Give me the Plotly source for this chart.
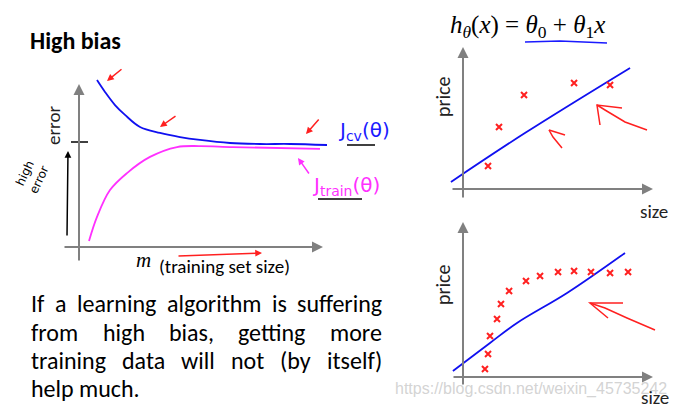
import glob
import plotly.graph_objects as go

W, H = 673, 408

# ---------------- data ----------------
# learning curves (left plot), x = training set size (0..100), y = error (0..100)
cv_m = [7.2, 10.4, 14.4, 18.4, 24.4, 32.4, 40.4, 48.4, 60.4, 72.4, 84.4, 99.2]
cv_err = [97.6, 90.6, 82.9, 77.1, 70.0, 66.5, 64.1, 62.4, 60.6, 60.0, 60.0, 59.4]
train_m = [4.0, 7.2, 12.4, 19.2, 28.4, 39.2, 48.4, 61.6, 96.4]
train_err = [2.9, 17.1, 32.9, 42.9, 52.4, 58.2, 58.8, 58.2, 57.1]

# top-right: few training examples + linear fit
top_size = [1.39, 2.0, 3.39, 6.17, 8.17]
top_price = [1.53, 4.13, 6.27, 7.07, 6.93]
top_fit_x = [-0.67, 3.44, 9.28]
top_fit_y = [0.47, 3.73, 8.07]

# bottom-right: many training examples + linear fit
bot_size = [1.22, 1.39, 1.5, 1.89, 2.11, 2.56, 3.5, 4.28, 5.28, 6.17, 7.11, 8.17, 9.17]
bot_price = [0.53, 1.53, 2.73, 3.87, 4.87, 5.73, 6.4, 6.73, 7.0, 7.07, 7.0, 6.93, 7.0]
bot_fit_x = [-0.56, 1.5, 3.0, 5.78, 9.0]
bot_fit_y = [0.4, 2.27, 3.6, 5.6, 8.27]

paragraph = [
    "If a learning algorithm is suffering",
    "from high bias, getting more",
    "training data will not (by itself)",
    "help much.",
]

# ---------------- font choice / measuring ----------------
FONT = "Lato"
font_file = None
carl = glob.glob("/usr/share/fonts/**/Carlito-Regular.ttf", recursive=True)
if carl:
    FONT = "Carlito"
    font_file = carl[0]
else:
    lat = glob.glob("/usr/share/fonts/**/Lato-Regular.ttf", recursive=True)
    if lat:
        font_file = lat[0]

measure = None
try:
    from PIL import ImageFont
    if font_file:
        _f = ImageFont.truetype(font_file, 100)
        measure = lambda s, size: _f.getlength(s) * size / 100.0
except Exception:
    measure = None
if measure is None:
    measure = lambda s, size: len(s) * 0.45 * size

GRAY = "#808080"
RED = "#ff2020"
BLUE = "#1010f0"
MAG = "#ff30ff"


def PX(x):
    return x / W


def PY(y):
    return 1 - y / H


fig = go.Figure()


def add_axes(idx, origin, scale, box):
    ox, oy = origin
    sx, sy = scale
    x0, y0, x1, y1 = box
    sfx = "" if idx == 1 else str(idx)
    xa = dict(domain=[PX(x0), PX(x1)], range=[(x0 - ox) / sx, (x1 - ox) / sx],
              visible=False, fixedrange=True, anchor="y" + sfx)
    ya = dict(domain=[PY(y1), PY(y0)], range=[(oy - y1) / sy, (oy - y0) / sy],
              visible=False, fixedrange=True, anchor="x" + sfx)
    fig.update_layout(**{"xaxis" + sfx: xa, "yaxis" + sfx: ya})


add_axes(1, (79, 246), (2.5, 1.7), (60, 60, 340, 265))
add_axes(2, (463, 189), (18, 15), (440, 40, 665, 200))
add_axes(3, (463, 377), (18, 15), (440, 215, 665, 392))

fig.add_trace(go.Scatter(x=cv_m, y=cv_err, mode="lines", line=dict(color=BLUE, width=1.8, shape="spline"),
                         xaxis="x", yaxis="y", hoverinfo="skip"))
fig.add_trace(go.Scatter(x=train_m, y=train_err, mode="lines", line=dict(color=MAG, width=1.8, shape="spline"),
                         xaxis="x", yaxis="y", hoverinfo="skip"))
fig.add_trace(go.Scatter(x=top_fit_x, y=top_fit_y, mode="lines", line=dict(color=BLUE, width=1.8, shape="spline"),
                         xaxis="x2", yaxis="y2", hoverinfo="skip"))
fig.add_trace(go.Scatter(x=top_size, y=top_price, mode="markers",
                         marker=dict(symbol="x-thin", size=6, line=dict(color=RED, width=2)),
                         xaxis="x2", yaxis="y2", hoverinfo="skip"))
fig.add_trace(go.Scatter(x=bot_fit_x, y=bot_fit_y, mode="lines", line=dict(color=BLUE, width=1.8, shape="spline"),
                         xaxis="x3", yaxis="y3", hoverinfo="skip"))
fig.add_trace(go.Scatter(x=bot_size, y=bot_price, mode="markers",
                         marker=dict(symbol="x-thin", size=6, line=dict(color=RED, width=2)),
                         xaxis="x3", yaxis="y3", hoverinfo="skip"))

ann = []
shapes = []


def arrow(tail, head, color, width=2, head_style=2, size=1.0):
    ann.append(dict(x=PX(head[0]), y=PY(head[1]), xref="paper", yref="paper",
                    ax=tail[0] - head[0], ay=tail[1] - head[1], axref="pixel", ayref="pixel",
                    showarrow=True, arrowhead=head_style, arrowsize=size, arrowwidth=width,
                    arrowcolor=color, text=""))


def text(x, y, s, size=16, color="black", family=None, xanchor="center", yanchor="middle", angle=0):
    ann.append(dict(x=PX(x), y=PY(y), xref="paper", yref="paper", text=s, showarrow=False,
                    font=dict(size=size, color=color, family=family or FONT), xanchor=xanchor,
                    yanchor=yanchor, textangle=angle))


def line(p0, p1, color, width=1.5):
    shapes.append(dict(type="line", xref="paper", yref="paper", x0=PX(p0[0]), y0=PY(p0[1]),
                       x1=PX(p1[0]), y1=PY(p1[1]), line=dict(color=color, width=width)))


def path(pts, color, width=1.5):
    d = "M " + " L ".join(f"{PX(x):.5f},{PY(y):.5f}" for x, y in pts)
    shapes.append(dict(type="path", xref="paper", yref="paper", path=d, line=dict(color=color, width=width)))


# ---- left plot ----
arrow((79, 262), (79, 84), GRAY, 2, 2, 1.1)
arrow((63, 247), (323, 247), GRAY, 2, 2, 1.1)
line((71, 142), (88, 142), "black", 1.5)
text(53, 126, "error", 19, "#222", angle=-90)
text(143, 260, "<i>m</i>", 21, "black", "Liberation Serif")
text(157, 266, "(training set size)", 19, "black", xanchor="left")
text(28, 41, "<b>High bias</b>", 24, "black", xanchor="left")

text(336, 131, "J<sub>cv</sub>(θ)", 20, "#1a1aff", "DejaVu Sans", xanchor="left")
line((347, 145), (375, 145), "black", 1.5)
text(310, 186, "J<sub>train</sub>(θ)", 20, MAG, "DejaVu Sans", xanchor="left")
line((318, 199), (362, 199), "black", 1.5)
arrow((310, 175), (298, 158), MAG, 1.5, 2, 0.9)
arrow((67, 237), (68, 151), "black", 1.5, 2, 0.9)
text(32, 177, "high<br>error", 12, "black", "DejaVu Sans", angle=-65)

arrow((123, 68), (107, 81), RED, 1.5, 2, 0.9)
arrow((177, 115), (160, 127), RED, 1.5, 2, 0.9)
arrow((320, 118), (306, 134), RED, 1.5, 2, 0.9)
arrow((177, 256), (262, 253), RED, 1.5, 2, 0.9)

# ---- top-right plot ----
arrow((463, 199), (463, 47), GRAY, 2, 2, 1.1)
arrow((451, 189), (653, 189), GRAY, 2, 2, 1.1)
text(443, 97, "price", 20, "#222", angle=-90)
text(654, 211, "size", 19, "#222")
text(527, 27, "<i>h</i><sub><i>θ</i></sub>(<i>x</i>) = <i>θ</i><sub>0</sub> + <i>θ</i><sub>1</sub><i>x</i>",
     25, "black", "Liberation Serif")
path([(525, 42), (560, 41), (607, 43)], "#1a1aff", 1.5)
path([(562, 148), (553, 137), (549, 130)], RED, 1.5)
path([(549, 130), (565, 135)], RED, 1.5)
path([(647, 130), (625, 122), (605, 110), (597, 105)], RED, 1.5)
path([(600, 125), (597, 105), (622, 108)], RED, 1.5)

# ---- bottom-right plot ----
arrow((463, 386), (463, 222), GRAY, 2, 2, 1.1)
arrow((452, 377), (653, 377), GRAY, 2, 2, 1.1)
text(443, 285, "price", 20, "#222", angle=-90)
text(655, 397, "size", 19, "#222")
path([(655, 330), (627, 318), (605, 308), (590, 303)], RED, 1.5)
path([(608, 318), (590, 303), (623, 303)], RED, 1.5)

text(393, 389, "https://blog.csdn.net/weixin_45735242", 16, "rgba(200,200,200,0.8)", "Liberation Sans",
     xanchor="left")

# ---- paragraph, justified between x=29 and x=380 ----
LEFT, RIGHT = 29, 380
psize = 24
line_y = [303, 332, 360, 388]
for k, (s, y) in enumerate(zip(paragraph, line_y)):
    words = s.split(" ")
    widths = [measure(w, psize) for w in words]
    space = measure(" ", psize)
    if k < len(paragraph) - 1 and len(words) > 1:
        gap = max(space * 0.6, (RIGHT - LEFT - sum(widths)) / (len(words) - 1))
    else:
        gap = space
    x = LEFT
    for w, wd in zip(words, widths):
        text(x, y, w, psize, "black", xanchor="left")
        x += wd + gap

fig.update_layout(width=W, height=H, margin=dict(l=0, r=0, t=0, b=0), showlegend=False,
                  paper_bgcolor="white", plot_bgcolor="rgba(0,0,0,0)",
                  annotations=ann, shapes=shapes)

fig.write_html("out.html", config={"displayModeBar": False},
               post_script="document.body.style.margin='0';document.body.style.overflow='hidden';")
